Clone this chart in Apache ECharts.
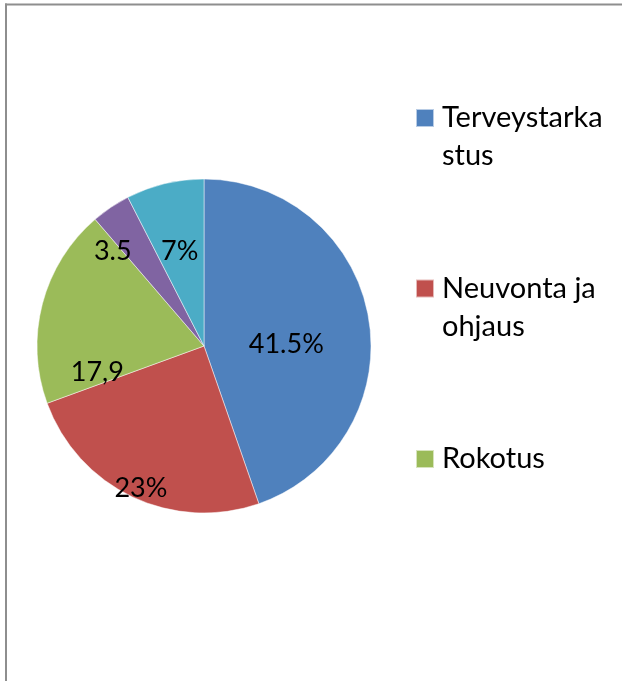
<!DOCTYPE html>
<html><head><meta charset="utf-8">
<script src="https://cdn.jsdelivr.net/npm/echarts@6/dist/echarts.min.js"></script>
<style>html,body{margin:0;padding:0;background:#fff;overflow:hidden}#c{width:622px;height:681px}</style>
</head><body><div id="c"></div>
<script>
const categories = ["Terveystarkastus", "Neuvonta ja ohjaus", "Rokotus", "Seulonta", "Muu"];
const values = [41.5, 23, 17.9, 3.5, 7];
const valueLabels = ["41.5%", "23%", "17,9", "3.5", "7%"];
const legendShown = ["Terveystarkastus", "Neuvonta ja ohjaus", "Rokotus"];
const legendText = {"Terveystarkastus": "Terveystarka\nstus", "Neuvonta ja ohjaus": "Neuvonta ja\nohjaus", "Rokotus": "Rokotus"};
const colors = ["#4F81BD", "#C0504D", "#9BBB59", "#8064A2", "#4BACC6"];
const labelShift = [[-3, 13], [-26, 64], [-23, 48], [-43, -23], [-4, -11]];

const chart = echarts.init(document.getElementById('c'), null, {renderer: 'canvas'});
const FONT = 'Lato';
chart.setOption({
  animation: false,
  color: colors,
  graphic: [
    {type: 'line', silent: true, shape: {x1: 6, y1: 3.5, x2: 6, y2: 700}, style: {stroke: '#8e8e8e', lineWidth: 2}},
    {type: 'line', silent: true, shape: {x1: 5, y1: 4.5, x2: 700, y2: 4.5}, style: {stroke: '#8e8e8e', lineWidth: 2}}
  ],
  legend: {
    data: legendShown,
    orient: 'vertical',
    left: 415, top: 61,
    padding: 0,
    itemWidth: 18, itemHeight: 18,
    itemGap: 56.5,
    icon: 'rect',
    selectedMode: false,
    formatter: n => {
      const lines = (legendText[n] || n).split('\n');
      return ['\u00a0', lines[0], lines[1] || '\u00a0'].join('\n');
    },
    textStyle: {fontFamily: FONT, fontSize: 29, color: '#000', lineHeight: 38, padding: [0, 0, 0, 3]}
  },
  series: [{
    type: 'pie',
    center: [204, 346],
    radius: 167,
    startAngle: 90,
    clockwise: true,
    avoidLabelOverlap: false,
    itemStyle: {borderColor: 'rgba(255,255,255,0.6)', borderWidth: 0.8},
    emphasis: {disabled: true},
    label: {
      show: true, position: 'inside',
      fontFamily: FONT, fontSize: 27, color: '#000',
      formatter: p => valueLabels[p.dataIndex]
    },
    labelLine: {show: false},
    labelLayout: p => ({dx: labelShift[p.dataIndex][0], dy: labelShift[p.dataIndex][1]}),
    data: categories.map((c, i) => ({name: c, value: values[i]}))
  }]
});
</script></body></html>
